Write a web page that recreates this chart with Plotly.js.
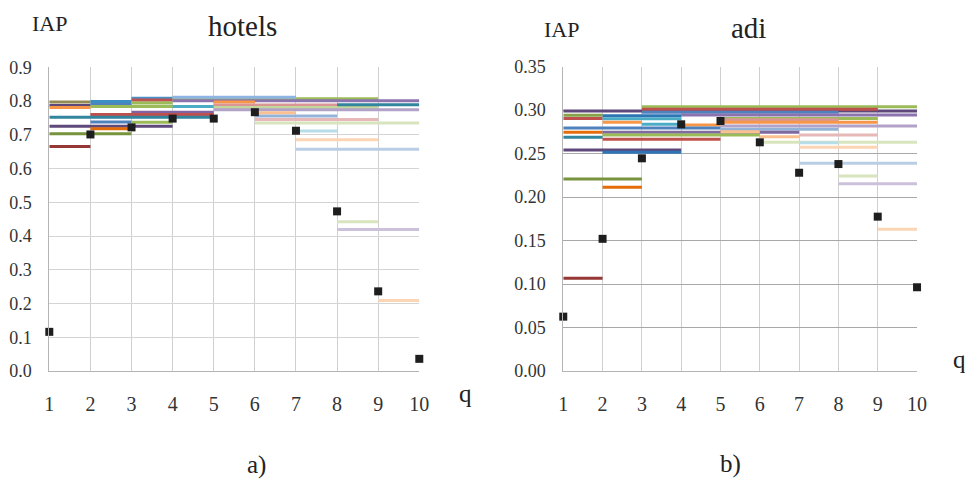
<!DOCTYPE html>
<html>
<head>
<meta charset="utf-8">
<script src="https://cdn.plot.ly/plotly-3.0.1.min.js"></script>
<style>html,body{margin:0;padding:0;background:#fff;}#chart{width:965px;height:479px;}</style>
</head>
<body>
<div id="chart"></div>
<script>
// ---------- data ----------
const qTicks = [1, 2, 3, 4, 5, 6, 7, 8, 9, 10];
const qTickText = ['1', '2', '3', '4', '5', '6', '7', '8', '9', '10'];

const hotelsYTicks = [0, 0.1, 0.2, 0.3, 0.4, 0.5, 0.6, 0.7, 0.8, 0.9];
const hotelsYTickText = ['0.0', '0.1', '0.2', '0.3', '0.4', '0.5', '0.6', '0.7', '0.8', '0.9'];
const adiYTicks = [0, 0.05, 0.10, 0.15, 0.20, 0.25, 0.30, 0.35];
const adiYTickText = ['0.00', '0.05', '0.10', '0.15', '0.20', '0.25', '0.30', '0.35'];

// black squares: IAP at each q
const hotelsIAP = [0.116, 0.701, 0.722, 0.748, 0.748, 0.767, 0.712, 0.473, 0.236, 0.036];
const adiIAP    = [0.0625, 0.152, 0.2446, 0.2837, 0.2875, 0.263, 0.228, 0.238, 0.1775, 0.0963];

// horizontal segments: from q, to q, IAP value
const hotelsSegFrom = [1, 1, 1, 2, 2, 2, 3, 3, 3, 4, 4, 4, 4, 5, 5, 5, 5, 8, 3, 6, 2, 6, 1, 6, 2, 3, 6, 1, 2, 7, 1, 7, 1, 7, 8, 8, 9];
const hotelsSegTo   = [2, 2, 2, 3, 3, 5, 4, 4, 4, 9, 7, 10, 5, 6, 8, 9, 10, 10, 5, 7, 5, 8, 5, 9, 3, 4, 10, 4, 3, 8, 3, 9, 2, 10, 9, 10, 10];
const hotelsSegIAP  = [0.797, 0.787, 0.781, 0.799, 0.790, 0.784, 0.808, 0.803, 0.794, 0.807, 0.811, 0.801, 0.784,
                       0.797, 0.788, 0.781, 0.774, 0.789, 0.767, 0.765, 0.760, 0.756, 0.752, 0.745, 0.738, 0.737,
                       0.735, 0.725, 0.718, 0.711, 0.703, 0.685, 0.665, 0.657, 0.442, 0.419, 0.209];

const adiSegFrom = [1, 3, 3, 3, 4, 1, 2, 1, 2, 5, 5, 2, 5, 3, 4, 5, 1, 5, 1, 2, 5, 2, 7, 6, 1, 2, 6, 7, 7, 1, 2, 7, 8, 1, 8, 2, 1, 9];
const adiSegTo   = [10, 10, 9, 8, 10, 2, 4, 2, 4, 9, 8, 3, 9, 4, 5, 10, 5, 8, 2, 7, 6, 6, 9, 7, 2, 5, 10, 8, 9, 4, 4, 10, 9, 3, 10, 3, 2, 10];
const adiSegIAP  = [0.299, 0.304, 0.301, 0.2975, 0.2945, 0.294, 0.2935, 0.2905, 0.290, 0.2905, 0.289, 0.286, 0.286,
                    0.2837, 0.283, 0.2818, 0.2795, 0.278, 0.2745, 0.2745, 0.2753, 0.2715, 0.2714, 0.2695, 0.2688,
                    0.2665, 0.263, 0.2626, 0.2573, 0.2542, 0.2515, 0.2389, 0.2243, 0.2208, 0.2154, 0.2113, 0.1066, 0.163];

// ---------- styles ----------
const hotelsSegColors = ['#948A54', '#5F497A', '#F79646', '#3C8DC4', '#4F81BD', '#9BBB59', '#4A90C8', '#C0504D', '#9BBB59',
  '#9BBB59', '#8EB4E3', '#8B73B0', '#4BACC6', '#F79646', '#D99694', '#C3D69B', '#B3A2C7', '#31859C', '#8064A2', '#FAC090',
  '#C0504D', '#95B3D7', '#31859C', '#E6B9B8', '#4F81BD', '#9BBB59', '#D7E4BD', '#5F497A', '#E46C0A', '#B7DEE8', '#77933C',
  '#FCD5B5', '#953735', '#B9CDE5', '#D7E4BD', '#CCC1DA', '#FCD5B5'];
const adiSegColors = ['#5F497A', '#9BBB59', '#C0504D', '#4F81BD', '#8B73B0', '#86A34A', '#2E75B6', '#C0504D', '#4BACC6',
  '#9BBB59', '#D99694', '#F79646', '#F79646', '#4BACC6', '#F79646', '#B3A2C7', '#4F81BD', '#95B3D7', '#E46C0A', '#7F6A9F',
  '#FAC090', '#9BBB59', '#E6B9B8', '#FAC090', '#31859C', '#C0504D', '#D7E4BD', '#B7DEE8', '#FCD5B5', '#5F497A', '#2E75B6',
  '#B9CDE5', '#D7E4BD', '#77933C', '#CCC1DA', '#E46C0A', '#953735', '#FCD5B5'];

const FONT = 'Liberation Serif';

function segTraces(from, to, val, colors, xa, ya) {
  return from.map((a, i) => ({
    type: 'scatter', mode: 'lines', x: [a, to[i]], y: [val[i], val[i]],
    xaxis: xa, yaxis: ya, line: {color: colors[i], width: 3}, cliponaxis: false, hoverinfo: 'skip'
  }));
}

const traces = []
  .concat(segTraces(hotelsSegFrom, hotelsSegTo, hotelsSegIAP, hotelsSegColors, 'x', 'y'))
  .concat(segTraces(adiSegFrom, adiSegTo, adiSegIAP, adiSegColors, 'x2', 'y2'));

traces.push({type: 'scatter', mode: 'markers', x: qTicks, y: hotelsIAP, xaxis: 'x', yaxis: 'y',
  marker: {symbol: 'square', size: 8, color: '#1e1e1e'}, cliponaxis: false});
traces.push({type: 'scatter', mode: 'markers', x: qTicks, y: adiIAP, xaxis: 'x2', yaxis: 'y2',
  marker: {symbol: 'square', size: 8, color: '#1e1e1e'}, cliponaxis: false});

function xAxis(domain, anchor) {
  return {domain: domain, anchor: anchor, range: [1, 10], tickvals: qTicks, ticktext: qTickText,
    showgrid: true, gridcolor: '#d0d0d0', gridwidth: 1, zeroline: false,
    showline: true, linecolor: '#b4b4b4', linewidth: 1,
    ticks: 'outside', ticklen: 15, tickcolor: 'rgba(0,0,0,0)',
    tickfont: {family: FONT, size: 20, color: '#333'}, fixedrange: true};
}
function yAxis(domain, anchor, range, tv, tt, gc) {
  return {domain: domain, anchor: anchor, range: range, tickvals: tv, ticktext: tt,
    showgrid: true, gridcolor: gc, gridwidth: 1, zeroline: false,
    showline: true, linecolor: '#b4b4b4', linewidth: 1,
    ticks: 'outside', ticklen: 13, tickcolor: 'rgba(0,0,0,0)',
    tickfont: {family: FONT, size: 18, color: '#333'}, fixedrange: true};
}

function label(text, x, y, size) {
  return {text: text, x: x, y: y, xref: 'paper', yref: 'paper', xanchor: 'center', yanchor: 'middle',
    showarrow: false, font: {family: FONT, size: size, color: '#222'}};
}

const layout = {
  width: 965, height: 479, margin: {l: 0, r: 0, t: 0, b: 0},
  paper_bgcolor: '#fff', plot_bgcolor: '#fff', showlegend: false,
  font: {family: FONT, color: '#222'},
  xaxis: xAxis([0.0511, 0.4345], 'y'),
  yaxis: yAxis([0.2255, 0.8595], 'x', [0, 0.9], hotelsYTicks, hotelsYTickText, '#d4d4d4'),
  xaxis2: xAxis([0.5837, 0.9503], 'y2'),
  yaxis2: yAxis([0.2255, 0.8608], 'x2', [0, 0.35], adiYTicks, adiYTickText, '#a8a8a8'),
  annotations: [
    label('IAP', 0.0518, 0.951, 22),
    label('hotels', 0.2513, 0.946, 29),
    label('q', 0.4819, 0.1775, 25),
    label('a)', 0.2653, 0.0292, 25),
    label('IAP', 0.5819, 0.9375, 22),
    label('adi', 0.7756, 0.941, 29),
    label('q', 0.9938, 0.2505, 25),
    label('b)', 0.7565, 0.0303, 25)
  ]
};

Plotly.newPlot('chart', traces, layout, {displayModeBar: false, staticPlot: true});
</script>
</body>
</html>
